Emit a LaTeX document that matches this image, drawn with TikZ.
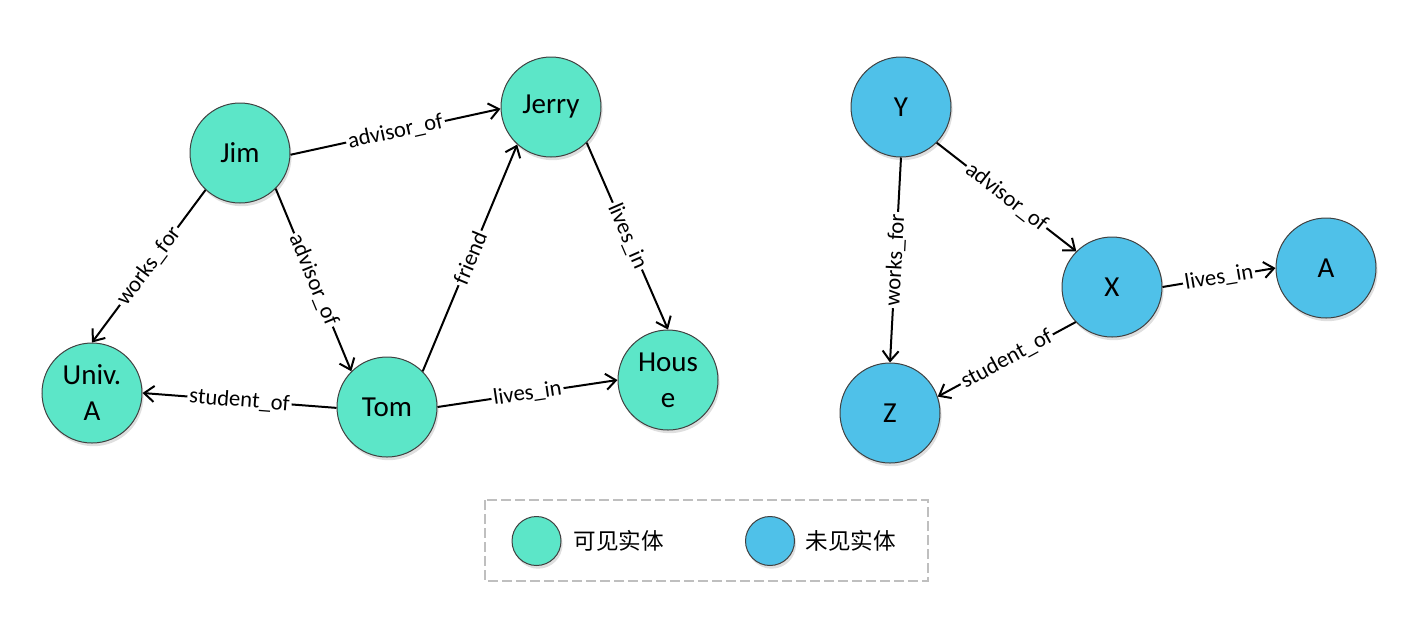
\documentclass[tikz,border=0pt]{standalone}
\usepackage{fontspec}
\setmainfont{Carlito}
\newfontfamily\cjk{Noto Sans CJK SC}
\usetikzlibrary{arrows.meta, shadows}
\definecolor{seen}{HTML}{5CE6C8}
\definecolor{unseen}{HTML}{4FC1E9}
\tikzset{
  entity/.style = {
    circle, draw=black!75, line width=0.5pt,
    minimum size=50pt, inner sep=0pt, align=center,
    font=\fontsize{14.5}{18}\selectfont,
    drop shadow={shadow xshift=0.8pt, shadow yshift=-1.6pt, opacity=0.25}
  },
  seenent/.style = {entity, fill=seen},
  unseenent/.style = {entity, fill=unseen},
  keyent/.style = {entity, minimum size=24.5pt},
  keytext/.style = {anchor=west, inner sep=0pt, font=\cjk\fontsize{11.3}{13}\selectfont},
  rel/.style = {-{Straight Barb[length=5pt,width=8pt]}, line width=1pt},
  lbl/.style = {sloped, fill=white, inner sep=1pt, font=\fontsize{11.3}{13}\selectfont},
  keybox/.style = {draw=black!25, line width=0.75pt, dash pattern=on 5pt off 2pt}
}

\begin{document}
\begin{tikzpicture}[x=0.5pt, y=-0.5pt]
  \useasboundingbox (0,0) rectangle (1408,623);

  % seen entities
  \node[seenent]   (jim)   at (240,153)  {Jim};
  \node[seenent]   (jerry) at (551,107)  {Jerry};
  \node[seenent]   (univ)  at (92,393)   {Univ.\\A};
  \node[seenent]   (tom)   at (387,407)  {Tom};
  \node[seenent]   (house) at (668,380)  {Hous\\e};

  % unseen entities
  \node[unseenent] (y)     at (901,107)  {Y};
  \node[unseenent] (x)     at (1112,287) {X};
  \node[unseenent] (a)     at (1326,268) {A};
  \node[unseenent] (z)     at (890,413)  {Z};

  \draw[rel] (jim.-2)    -- node[lbl]{advisor\_of} (jerry.182);
  \draw[rel] (jim.227)   -- node[lbl]{works\_for}  (univ.90);
  \draw[rel] (jim.-45)   -- node[lbl]{advisor\_of} (tom.135);
  \draw[rel] (tom.181)   -- node[lbl]{student\_of} (univ.0);
  \draw[rel] (tom.0)     -- node[lbl]{lives\_in}   (house.180);
  \draw[rel] (tom.45)    -- node[lbl]{friend}      (jerry.228);
  \draw[rel] (jerry.-45) -- node[lbl]{lives\_in}   (house.90);

  \draw[rel] (y.-90)     -- node[lbl]{works\_for}  (z.90);
  \draw[rel] (y.-45)     -- node[lbl]{advisor\_of} (x.135);
  \draw[rel] (x.0)       -- node[lbl]{lives\_in}   (a.180);
  \draw[rel] (x.224)     -- node[lbl]{student\_of} (z.19);

  % legend
  \draw[keybox] (485,500) rectangle (928,581);
  \node[keyent, fill=seen]   (seenkey)   at (536.5,541) {};
  \node[keytext]             (seentxt)   at (573,541)   {可见实体};
  \node[keyent, fill=unseen] (unseenkey) at (770,541)   {};
  \node[keytext]             (unseentxt) at (805,541)   {未见实体};

\end{tikzpicture}
\end{document}
